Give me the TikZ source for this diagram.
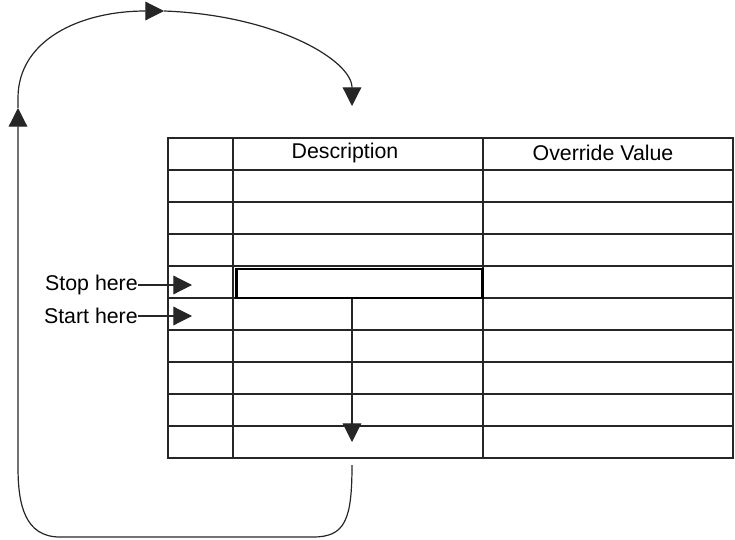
\documentclass[tikz,border=0pt]{standalone}
\usepackage{fontspec}
\setmainfont{Liberation Sans}
\usepackage{tikz}
\usetikzlibrary{arrows.meta, positioning, calc}
\tikzstyle{grid} = [line width=0.9pt, draw=black!85]
\tikzstyle{line} = [line width=0.9pt, draw=black!85]
\tikzstyle{arrow} = [line width=0.9pt, draw=black!85, -{Triangle[length=14pt, width=14pt]}]
\tikzstyle{current} = [line width=2.2pt, draw=black]
\tikzstyle{label} = [inner sep=0pt, font=\fontsize{16}{19}\selectfont]

\begin{document}
\begin{tikzpicture}[x=0.75pt, y=-0.75pt]
\useasboundingbox (0,0) rectangle (735,539);

% table
\draw [grid] (168,138) rectangle (733,458);
\foreach \y in {170,202,...,426}
  \draw [grid] (168,\y) -- (733,\y);
\foreach \x in {233,483}
  \draw [grid] (\x,138) -- (\x,458);

\node (desc) [label] at (345,153) {Description};
\node (override) [label] at (603,153) {Override Value};

% current row
\node (row) [current, inner sep=0pt, minimum width=246*0.75pt, minimum height=29*0.75pt, anchor=north west] at (235,267.5) {};

% row pointers
\node (stop) [label, anchor=east] at (138,285) {Stop here};
\node (start) [label, anchor=east] at (138,316) {Start here};
\coordinate (stopTip) at (192,285);
\coordinate (startTip) at (192,316);
\draw [arrow] (stop.east) -- (stopTip);
\draw [arrow] (start.east) -- (startTip);

% scan down the column
\coordinate (scanEnd) at (352,442);
\draw [arrow] (row.south -| scanEnd) -- (scanEnd);

% loop back to the top
\coordinate (loopStart) at (352,465);
\coordinate (loopLeft) at (18,108);
\coordinate (loopTop) at (164,11);
\coordinate (loopEnd) at (352,106);
\draw [arrow] (loopStart) .. controls (352,520) and (345,537) .. (313,537)
  -- (60,537) .. controls (25,537) and (18,505) .. (18,467) -- (loopLeft);
\draw [arrow] (loopLeft) -- (18,98) .. controls (18,40) and (80,11) .. (loopTop);
\draw [arrow] (loopTop) .. controls (275,15) and (352,60) .. (loopEnd);

\end{tikzpicture}
\end{document}
